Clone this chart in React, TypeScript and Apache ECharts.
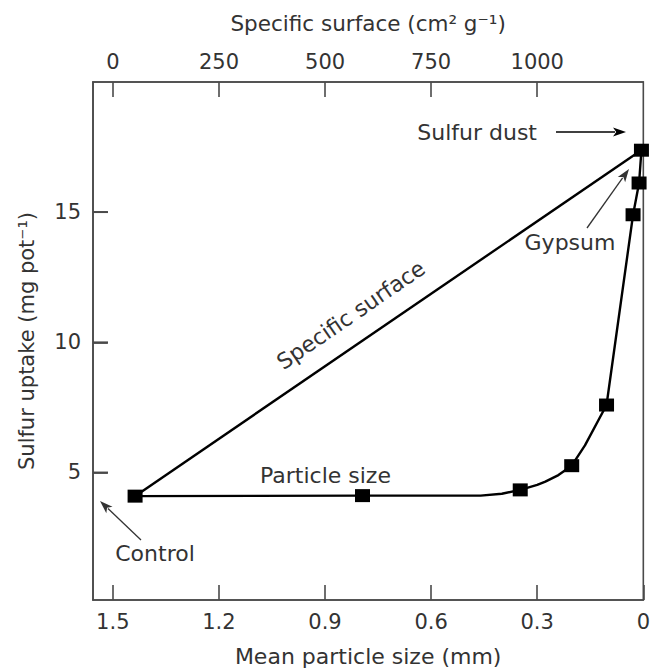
import React, { useEffect, useRef } from "react";
import * as echarts from "echarts";

// Particle-size series (markers)
const sizeMm = [1.437, 0.794, 0.348, 0.2025, 0.104, 0.029, 0.012, 0.0053];
const uptake = [4.09, 4.11, 4.33, 5.26, 7.59, 14.9, 16.12, 17.38];

// Drawn particle-size curve, traced vertex by vertex from the picture
const curveMm = [1.437, 0.794, 0.46, 0.40, 0.348, 0.30, 0.277, 0.24, 0.2025, 0.165, 0.104, 0.029, 0.012, 0.0053];
const curveUptake = [4.09, 4.11, 4.11, 4.18, 4.33, 4.52, 4.65, 4.9, 5.26, 6.04, 7.59, 14.9, 16.12, 17.38];

// Specific-surface line (control -> sulfur dust), on the top axis
const surfaceValues = [52, 1245];
const surfaceUptake = [4.09, 17.38];

// Tick labels
const sizeTicks = [0, 0.3, 0.6, 0.9, 1.2, 1.5];
const surfaceTicks = [0, 250, 500, 750, 1000];
const uptakeTicks = [5, 10, 15];

const SIZE_MAX = 1.556;
const TICK_MM = 0.042; // inward tick length on the left axis, in mm units of the bottom axis

const FONT = "'DejaVu Sans', Verdana, sans-serif";
const TEXT = "#333";
const AXIS = "#4a4a4a";
const FS_TICK = 21;
const FS_NAME = 22;
const FS_NOTE = 22;
const TICK_LEN = 15;

function arrow(x1: number, y1: number, x2: number, y2: number, color: string, width: number, hl: number, hw: number) {
  const dx = x2 - x1;
  const dy = y2 - y1;
  const len = Math.sqrt(dx * dx + dy * dy);
  const ux = dx / len;
  const uy = dy / len;
  const bx = x2 - ux * hl;
  const by = y2 - uy * hl;
  const px = -uy * (hw / 2);
  const py = ux * (hw / 2);
  return [
    {
      type: "line",
      shape: { x1, y1, x2: bx + ux * 2, y2: by + uy * 2 },
      style: { stroke: color, lineWidth: width },
      silent: true,
    },
    {
      type: "polygon",
      shape: {
        points: [
          [x2, y2],
          [bx + px, by + py],
          [bx + ux * hl * 0.25, by + uy * hl * 0.25],
          [bx - px, by - py],
        ],
      },
      style: { fill: color },
      silent: true,
    },
  ];
}

function textEl(text: string, x: number, y: number, align: string, rotation = 0) {
  return {
    type: "text",
    x,
    y,
    rotation,
    silent: true,
    style: {
      text,
      fill: TEXT,
      font: `${FS_NOTE}px ${FONT}`,
      textAlign: align,
      textVerticalAlign: "middle",
    },
  };
}

export default function App() {
  const ref = useRef<HTMLDivElement>(null);

  useEffect(() => {
    if (!ref.current) return;
    const chart = echarts.init(ref.current, undefined, { renderer: "svg" });

    const tickLabel = { fontSize: FS_TICK, color: TEXT, fontFamily: FONT };
    const nameStyle = { fontSize: FS_NAME, color: TEXT, fontFamily: FONT };
    const tickStyle = { color: AXIS, width: 1.6 };
    const lineStyle = { color: AXIS, width: 1.6 };
    const plain = (v: number) => String(v);

    const notes: any[] = [
      textEl("Sulfur dust", 537, 132, "right"),
      ...arrow(556, 132, 626, 132, "#000", 1.6, 13, 9),
      textEl("Gypsum", 570, 242, "center"),
      ...arrow(587, 228, 629, 169, "#333", 1.3, 13, 9),
      textEl("Control", 155, 553, "center"),
      ...arrow(141, 540, 100, 501, "#333", 1.3, 13, 9),
      textEl("Particle size", 260, 475, "left"),
      textEl("Specific surface", 351, 315, "center", (34.5 * Math.PI) / 180),
    ];

    const option: any = {
      animation: false,
      backgroundColor: "#ffffff",
      grid: {
        left: 93,
        right: 8,
        top: 82,
        bottom: 70,
        show: true,
        borderColor: AXIS,
        borderWidth: 1.6,
        backgroundColor: "transparent",
      },
      xAxis: [
        {
          type: "value",
          position: "bottom",
          inverse: true,
          min: 0,
          max: SIZE_MAX,
          splitLine: { show: false },
          axisLine: { show: true, onZero: false, lineStyle },
          axisTick: { show: true, inside: true, length: TICK_LEN, lineStyle: tickStyle, customValues: sizeTicks },
          axisLabel: { ...tickLabel, margin: 11, customValues: sizeTicks, formatter: plain },
          name: "Mean particle size (mm)",
          nameLocation: "middle",
          nameGap: 45,
          nameTextStyle: nameStyle,
        },
        {
          type: "value",
          position: "top",
          min: -47,
          max: 1250,
          splitLine: { show: false },
          axisLine: { show: true, onZero: false, lineStyle },
          axisTick: { show: true, inside: true, length: TICK_LEN, lineStyle: tickStyle, customValues: surfaceTicks },
          axisLabel: { ...tickLabel, margin: 10, customValues: surfaceTicks, formatter: plain },
          name: "Specific surface (cm² g⁻¹)",
          nameLocation: "middle",
          nameGap: 48,
          nameTextStyle: { ...nameStyle, fontSize: 21.5 },
        },
      ],
      yAxis: {
        type: "value",
        position: "left",
        min: 0.1,
        max: 20,
        splitLine: { show: false },
        axisLine: { show: true, onZero: false, lineStyle },
        axisTick: { show: false },
        axisLabel: { ...tickLabel, margin: 12, customValues: uptakeTicks, formatter: plain },
        name: "Sulfur uptake (mg pot⁻¹)",
        nameLocation: "middle",
        nameRotate: 90,
        nameGap: 56,
        nameTextStyle: { ...nameStyle, fontSize: 21 },
      },
      series: [
        {
          name: "Specific surface",
          type: "line",
          xAxisIndex: 1,
          data: surfaceValues.map((v, i) => [v, surfaceUptake[i]]),
          symbol: "none",
          lineStyle: { color: "#000", width: 2.4 },
          z: 2,
        },
        {
          name: "Particle size",
          type: "line",
          xAxisIndex: 0,
          data: curveMm.map((v, i) => [v, curveUptake[i]]),
          symbol: "none",
          smooth: false,
          lineStyle: { color: "#000", width: 2.4, join: "round" },
          z: 2,
          markLine: {
            silent: true,
            symbol: ["none", "none"],
            label: { show: false },
            animation: false,
            lineStyle: { color: AXIS, width: 1.8, type: "solid" },
            data: uptakeTicks.map((v) => [
              { coord: [SIZE_MAX, v] },
              { coord: [SIZE_MAX - TICK_MM, v] },
            ]),
          },
        },
        {
          name: "Particle size points",
          type: "scatter",
          xAxisIndex: 0,
          data: sizeMm.map((v, i) => [v, uptake[i]]),
          symbol: "rect",
          symbolSize: [15, 13],
          itemStyle: { color: "#000", opacity: 1 },
          z: 3,
        },
      ],
      graphic: notes,
    };

    chart.setOption(option);

    // inward ticks of the left (uptake) axis, also positioned through the y scale
    const x0 = chart.convertToPixel({ xAxisIndex: 0 } as any, SIZE_MAX) as number;
    const left = isFinite(x0) ? x0 : 93;
    const yTicks = uptakeTicks.map((v) => {
      const y = chart.convertToPixel({ yAxisIndex: 0 } as any, v) as number;
      return {
        type: "rect",
        silent: true,
        z: 100,
        shape: { x: left, y: y - 0.9, width: TICK_LEN, height: 1.8 },
        style: { fill: AXIS },
      };
    });
    chart.setOption({ graphic: [...notes, ...yTicks] });

    return () => chart.dispose();
  }, []);

  return (
    <div
      ref={ref}
      style={{ position: "fixed", left: 0, top: 0, width: 653, height: 672, background: "#fff" }}
    />
  );
}
